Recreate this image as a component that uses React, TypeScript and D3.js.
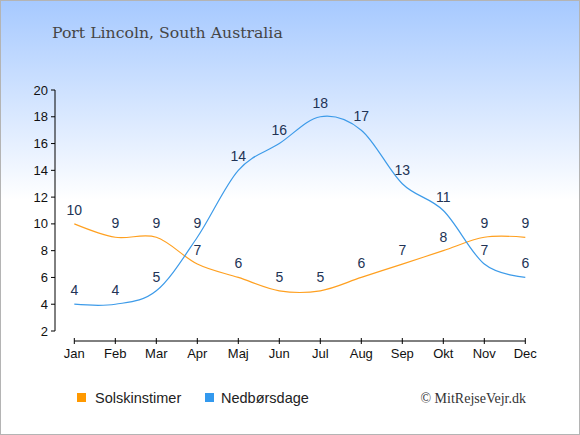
import * as d3 from 'd3';

const months = ['Jan', 'Feb', 'Mar', 'Apr', 'Maj', 'Jun', 'Jul', 'Aug', 'Sep', 'Okt', 'Nov', 'Dec'];
const sunHours = [10, 9, 9, 7, 6, 5, 5, 6, 7, 8, 9, 9];
const rainDays = [4, 4, 5, 9, 14, 16, 18, 17, 13, 11, 7, 6];
const yTicks = [2, 4, 6, 8, 10, 12, 14, 16, 18, 20];

const W = 580;
const H = 435;
const sunColor = '#ffa020';
const rainColor = '#3d9be9';
const labelColor = '#223355';
const sans = '"Liberation Sans", Arial, sans-serif';
const serif = '"DejaVu Serif", serif';

export default function App() {
    const x = d3.scalePoint<string>().domain(months).range([74.3, 525.3]);
    const y = d3.scaleLinear().domain([2, 20]).range([331, 90]);

    const line = d3
        .line<number>()
        .x((_, i) => x(months[i]) as number)
        .y((d) => y(d))
        .curve(d3.curveCardinal.tension(0));

    const series = [
        { name: 'Solskinstimer', values: sunHours, color: sunColor },
        { name: 'Nedbørsdage', values: rainDays, color: rainColor },
    ];

    const axisY = 341;

    return (
        <div style={{ position: 'fixed', left: 0, top: 0 }}>
            <svg width={W} height={H} style={{ display: 'block' }}>
                <defs>
                    <linearGradient id='bg' x1='0' y1='0' x2='0' y2='1'>
                        <stop offset='0' stopColor='#a6c9ff' />
                        <stop offset='0.46' stopColor='#ffffff' />
                        <stop offset='1' stopColor='#ffffff' />
                    </linearGradient>
                </defs>
                <rect x={0.5} y={0.5} width={W - 1} height={H - 1} fill='url(#bg)' stroke='#b4b4b4' />

                <text x={52} y={38} fontFamily={serif} fontSize={15.7} fill='#454545'>
                    Port Lincoln, South Australia
                </text>

                {/* y axis */}
                <line x1={55} x2={55} y1={y(20)} y2={y(2)} stroke='#000' />
                {yTicks.map((t) => (
                    <g key={t}>
                        <line x1={51} x2={55} y1={y(t)} y2={y(t)} stroke='#000' />
                        <text x={48} y={y(t) + 4.5} textAnchor='end' fontFamily={sans} fontSize={13} fill='#111'>
                            {t}
                        </text>
                    </g>
                ))}

                {/* x axis */}
                <line x1={x('Jan')} x2={x('Dec')} y1={axisY} y2={axisY} stroke='#000' />
                {months.map((m) => (
                    <g key={m}>
                        <line x1={x(m)} x2={x(m)} y1={axisY - 3} y2={axisY + 3} stroke='#000' />
                        <text x={x(m)} y={axisY + 17} textAnchor='middle' fontFamily={sans} fontSize={13} fill='#111'>
                            {m}
                        </text>
                    </g>
                ))}

                {series.map((s) => (
                    <path key={s.name} d={line(s.values) ?? ''} fill='none' stroke={s.color} strokeWidth={1.2} />
                ))}

                {series.map((s) =>
                    s.values.map((v, i) => (
                        <text
                            key={s.name + i}
                            x={x(months[i])}
                            y={y(v) - 9}
                            textAnchor='middle'
                            fontFamily={sans}
                            fontSize={14}
                            fill={labelColor}>
                            {v}
                        </text>
                    ))
                )}

                {/* legend */}
                <rect x={77} y={393} width={9} height={9} fill='#ff9900' />
                <text x={95} y={403} fontFamily={sans} fontSize={14.5} fill='#222'>
                    Solskinstimer
                </text>
                <rect x={205} y={393} width={9} height={9} fill='#3399ee' />
                <text x={221} y={403} fontFamily={sans} fontSize={14.5} fill='#222'>
                    Nedbørsdage
                </text>
                <text x={526} y={403} textAnchor='end' fontFamily='"Liberation Serif", serif' fontSize={14} fill='#333'>
                    © MitRejseVejr.dk
                </text>
            </svg>
        </div>
    );
}
